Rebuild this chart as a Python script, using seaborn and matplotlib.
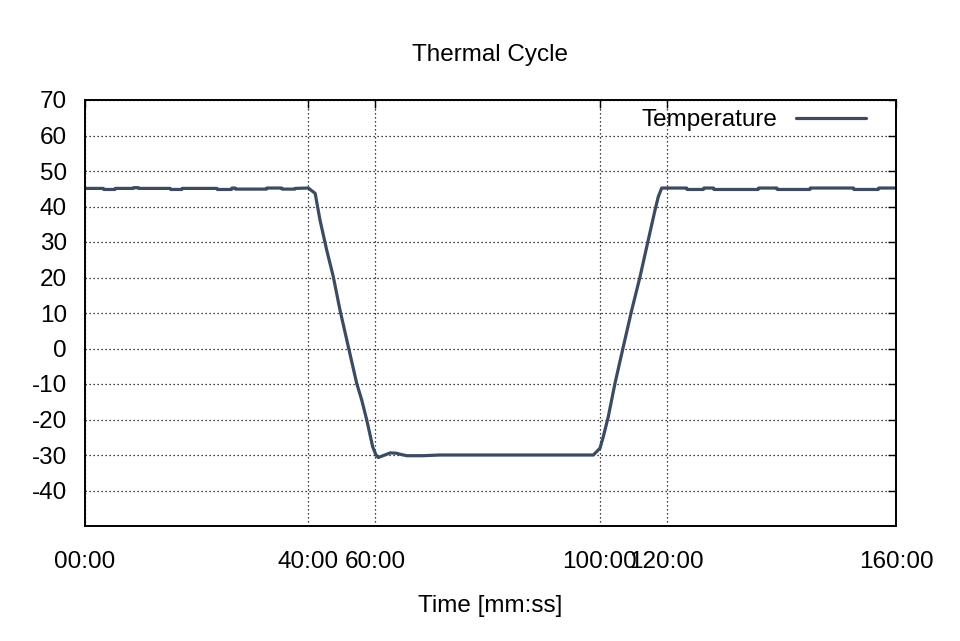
import matplotlib
matplotlib.use("Agg")
import matplotlib.pyplot as plt
import seaborn as sns
import pandas as pd

# ---- data (time in minutes along the axis, temperature in degC) ----
time_min = [0.0, 3.6, 3.7, 5.9, 6.0, 9.5, 9.6, 10.5, 10.6, 16.8, 16.9, 19.1, 19.2,
            26.0, 26.1, 28.9, 29.0, 29.6, 29.7, 35.8, 35.9, 38.8, 38.9, 41.4, 41.5,
            44.05, 45.41, 46.36, 47.69, 48.99, 50.31, 51.95, 53.60, 54.59, 55.58,
            56.76, 57.41, 57.87, 58.6, 60.25, 61.4, 62.22, 63.47, 66.69, 70.0,
            80.0, 90.0, 97.66, 100.28, 101.60, 102.26, 103.24, 104.56, 106.20,
            107.86, 109.50, 111.13, 112.46, 113.11, 113.78, 118.7, 118.8, 122.0,
            122.1, 124.0, 124.1, 132.8, 132.9, 136.5, 136.6, 143.0, 143.1, 151.6,
            151.7, 156.5, 156.6, 160.0]
temp_c = [45.1, 45.1, 44.8, 44.8, 45.1, 45.1, 45.3, 45.3, 45.1, 45.1, 44.8, 44.8, 45.1,
          45.1, 44.8, 44.8, 45.2, 45.2, 44.9, 44.9, 45.2, 45.2, 44.9, 44.9, 45.1,
          45.2, 43.7, 36.2, 27.7, 20.2, 10.8, 0.5, -9.8, -14.5, -20.1,
          -27.7, -30.0, -30.7, -30.3, -29.4, -29.5, -29.8, -30.2, -30.2, -30.0,
          -30.0, -30.0, -30.0, -30.0, -28.1, -24.8, -19.2, -9.8, 0.5,
          10.8, 20.2, 30.6, 39.0, 42.8, 45.2, 45.2, 44.8, 44.8,
          45.2, 45.2, 44.8, 44.8, 45.2, 45.2, 44.8, 44.8, 45.2, 45.2,
          44.8, 44.8, 45.2, 45.2]

x_tick_pos = [0.0, 44.05, 57.2, 101.6, 114.8, 160.0]
x_tick_labels = ["00:00", "40:00", "60:00", "100:00", "120:00", "160:00"]
y_ticks = [-40, -30, -20, -10, 0, 10, 20, 30, 40, 50, 60, 70]

df = pd.DataFrame({"time": time_min, "temp": temp_c})

sns.set_style("white")
plt.rcParams["font.family"] = ["Liberation Sans", "DejaVu Sans"]
plt.rcParams["axes.unicode_minus"] = False
plt.rcParams["text.color"] = "black"

fs = 17.5

fig = plt.figure(figsize=(9.6, 6.41), dpi=100)
ax = fig.add_axes([85 / 960, 1 - 526 / 641, (896 - 85) / 960, (526 - 100) / 641])

sns.lineplot(data=df, x="time", y="temp", ax=ax, estimator=None, sort=False,
             color="#3c4a62", linewidth=2.3, label="Temperature")

ax.set_xlim(0, 160)
ax.set_ylim(-50, 70)
ax.set_xticks(x_tick_pos)
ax.set_xticklabels(x_tick_labels)
ax.set_yticks(y_ticks)

ax.grid(True, color="black", linestyle=(0, (1, 2.2)), linewidth=0.9)
for s in ax.spines.values():
    s.set_visible(True)
    s.set_color("black")
    s.set_linewidth(1.4)

ax.tick_params(axis="both", direction="in", length=6, width=1, colors="black",
               labelcolor="black", labelsize=fs, top=True, right=True)
ax.tick_params(axis="x", pad=18)
ax.tick_params(axis="y", pad=13)

ax.set_title("Thermal Cycle", fontsize=fs, pad=28, color="black")
ax.set_xlabel("Time [mm:ss]", fontsize=fs, labelpad=16, color="black")
ax.set_ylabel("")

leg = ax.legend(loc="upper right", bbox_to_anchor=((866 - 85) / 811, 1 - 9 / 426),
                frameon=False, markerfirst=False, fontsize=fs, handlelength=2.9,
                borderpad=0, borderaxespad=0, handletextpad=0.75)
for t in leg.get_texts():
    t.set_color("black")

fig.savefig("out.png", dpi=100)
